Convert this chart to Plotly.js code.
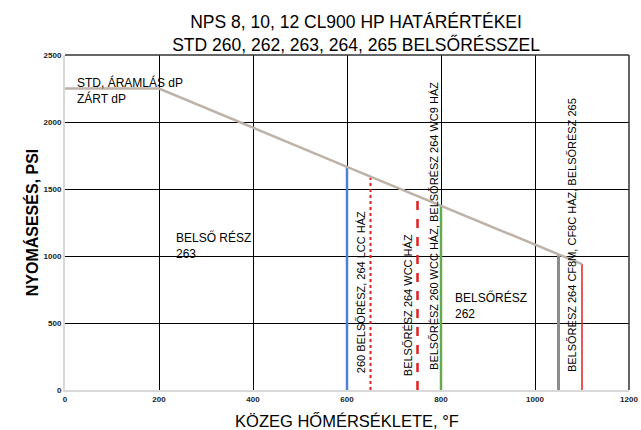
<!DOCTYPE html>
<html>
<head>
<meta charset="utf-8">
<script src="https://cdn.plot.ly/plotly-3.0.1.min.js"></script>
<style>html,body{margin:0;padding:0;background:#fff;}#chart{width:641px;height:430px;}</style>
</head>
<body>
<div id="chart"></div>
<script>
// Limit line (pressure drop vs. temperature)
const limitTemps = [0, 200, 600, 800, 1050, 1100];
const limitPsi = [2250, 2250, 1665, 1375, 1010, 940];

// Vertical limit lines (temperature, top value)
const vTemps = [600, 650, 750, 800, 1050, 1100];
const vTops = [1665, 1595, 1445, 1375, 1010, 940];
const vNames = ['260 BELSŐRÉSZ, 264 LCC HÁZ', 'LCC dotted', 'BELSŐRÉSZ 264 WCC HÁZ', 'BELSŐRÉSZ 260 WCC HÁZ, BELSŐRÉSZ 264 WC9 HÁZ', 'BELSŐRÉSZ 264 CF8M, CF8C HÁZ, BELSŐRÉSZ 265', '265 red'];
const vColors = ['#4F81D0', '#E02020', '#E02020', '#6AA84F', '#8C8C8C', '#E02020'];
const vDash = ['solid', 'dot', 'dash', 'solid', 'solid', 'solid'];
const vWidth = [2.5, 2, 2.5, 2.5, 3, 1.5];

// Text labels
const textLabels = ['STD, ÁRAMLÁS dP<br>ZÁRT dP', 'BELSŐ RÉSZ<br>263', 'BELSŐRÉSZ<br>262'];
const textX = [21, 232, 826];
const textY = [2235, 1078, 627];

const vTextLabels = ['260 BELSŐRÉSZ, 264 LCC HÁZ', 'BELSŐRÉSZ 264 WCC HÁZ', 'BELSŐRÉSZ 260 WCC HÁZ, BELSŐRÉSZ 264 WC9 HÁZ', 'BELSŐRÉSZ 264 CF8M, CF8C HÁZ, BELSŐRÉSZ 265'];
const vTextX = [628, 728, 785, 1079];
const vTextY = [731, 634, 1224, 1157];

const xTicks = [0, 200, 400, 600, 800, 1000, 1200];
const yTicks = [0, 500, 1000, 1500, 2000, 2500];

const FONT = 'Liberation Sans, Arial, sans-serif';

const traces = [];
for (let i = 0; i < vTemps.length; i++) {
  traces.push({
    x: [vTemps[i], vTemps[i]], y: [0, vTops[i]], mode: 'lines', name: vNames[i],
    line: {color: vColors[i], width: vWidth[i], dash: vDash[i]}, hoverinfo: 'skip'
  });
}
traces.push({
  x: limitTemps, y: limitPsi, mode: 'lines', name: 'limit',
  line: {color: '#BDB3A8', width: 2.5}, hoverinfo: 'skip'
});

const annotations = [];
for (let i = 0; i < textLabels.length; i++) {
  annotations.push({x: textX[i], y: textY[i], xref: 'x', yref: 'y', text: textLabels[i],
    showarrow: false, xanchor: 'left', yanchor: 'middle', align: 'left',
    font: {family: FONT, size: 12, color: '#000'}});
}
for (let i = 0; i < vTextLabels.length; i++) {
  annotations.push({x: vTextX[i], y: vTextY[i], xref: 'x', yref: 'y', text: vTextLabels[i],
    showarrow: false, textangle: -90, xanchor: 'center', yanchor: 'middle',
    font: {family: FONT, size: 11, color: '#000'}});
}

const layout = {
  width: 641, height: 430,
  margin: {l: 65, r: 12, t: 55, b: 40},
  paper_bgcolor: '#fff', plot_bgcolor: '#fff',
  showlegend: false,
  title: {text: 'NPS 8, 10, 12 CL900 HP HATÁRÉRTÉKEI<br>STD 260, 262, 263, 264, 265 BELSŐRÉSSZEL',
    font: {family: FONT, size: 17.5, color: '#000'},
    x: 0.516, xref: 'paper', xanchor: 'center', y: 0.935, yref: 'container', yanchor: 'middle'},
  xaxis: {
    range: [0, 1200], tickvals: xTicks, ticktext: xTicks.map(String),
    showgrid: true, gridcolor: '#000', gridwidth: 1, zeroline: false,
    showline: true, linecolor: '#D9D9D9', linewidth: 2, ticks: '',
    tickfont: {family: FONT, size: 8, color: '#222', weight: 'bold'},
    title: {text: 'KÖZEG HŐMÉRSÉKLETE, °F', font: {family: FONT, size: 16.5, color: '#000'}, standoff: 16}
  },
  yaxis: {
    range: [0, 2500], tickvals: yTicks, ticktext: yTicks.map(String),
    showgrid: true, gridcolor: '#000', gridwidth: 1, zeroline: false,
    showline: true, linecolor: '#D9D9D9', linewidth: 2, ticks: '',
    tickfont: {family: FONT, size: 8, color: '#222', weight: 'bold'},
    title: {text: 'NYOMÁSESÉS, PSI', font: {family: FONT, size: 16, color: '#000', weight: 'bold'}, standoff: 1}
  },
  shapes: [
    {type: 'line', xref: 'paper', yref: 'paper', x0: 0, x1: 1, y0: 1, y1: 1, line: {color: '#333', width: 1.5}},
    {type: 'line', xref: 'paper', yref: 'paper', x0: 1, x1: 1, y0: 0, y1: 1, line: {color: '#333', width: 1.5}}
  ],
  annotations: annotations
};

Plotly.newPlot('chart', traces, layout, {displayModeBar: false, staticPlot: true});
</script>
</body>
</html>
